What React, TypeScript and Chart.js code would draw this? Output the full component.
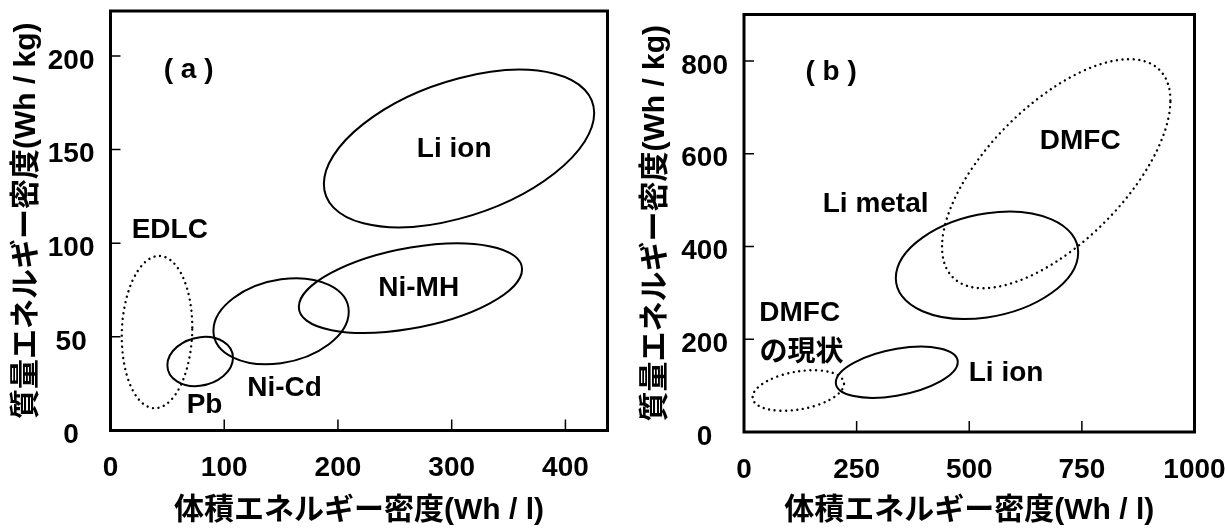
import React, { useEffect, useRef } from 'react';
import { Chart, registerables } from 'chart.js';
Chart.register(...registerables);

const FONT = "'Liberation Sans', Arial, 'Noto Sans CJK JP', sans-serif";
const X_TITLE = '体積エネルギー密度(Wh / l)';
const Y_TITLE = '質量エネルギー密度(Wh / kg)';

// ---------- Panel (a) data ----------
const aRegions = ['Li ion', 'Ni-MH', 'Ni-Cd', 'Pb', 'EDLC'];
const aXMin = [187.6, 165.6, 90.5, 50, 9.9];
const aXMax = [425.3, 361.9, 209.5, 107.7, 71.9];
const aYMin = [108.5, 52.1, 35.4, 23.7, 11.9];
const aYMax = [192.6, 99.9, 81.3, 50, 93.2];
const aTilt = [0.45, 0.42, 0.22, 0.15, 0.06];
const aDotted = ['EDLC'];
const aLabels = ['( a )', 'Li ion', 'EDLC', 'Ni-MH', 'Ni-Cd', 'Pb'];
const aLabelX = [68.7, 302.2, 52.1, 271, 153.1, 82.7];
const aLabelY = [192.3, 150.3, 107.1, 76, 22.4, 13.4];
const aXTicks = [0, 100, 200, 300, 400];
const aYTicks = [0, 50, 100, 150, 200];
const aXRange = [0, 437];
const aYRange = [0, 224];

// ---------- Panel (b) data ----------
const bRegions = ['DMFC', 'Li metal', 'Li ion', 'DMFCの現状'];
const bXMin = [439.6, 337, 203.8, 19.1];
const bXMax = [946.5, 741.8, 474.5, 222];
const bYMin = [310, 243.6, 73.6, 45.8];
const bYMax = [803.7, 475, 184, 133.2];
const bTilt = [0.64, 0.24, 0.4, 0.33];
const bDotted = ['DMFC', 'DMFCの現状'];
const bLabels = ['( b )', 'DMFC', 'Li metal', 'DMFC', 'の現状', 'Li ion'];
const bLabelX = [193.4, 746.2, 292.2, 123.7, 127.7, 581.7];
const bLabelY = [774.4, 625.9, 491.4, 255, 169.6, 125.9];
const bXTicks = [0, 250, 500, 750, 1000];
const bYTicks = [0, 200, 400, 600, 800];
const bXRange = [0, 1000];
const bYRange = [0, 900];

type Panel = {
  regions: string[]; xMin: number[]; xMax: number[]; yMin: number[]; yMax: number[];
  tilt: number[]; dotted: string[]; labels: string[]; labelX: number[]; labelY: number[];
  xTicks: number[]; yTicks: number[]; xRange: number[]; yRange: number[];
};

const panelA: Panel = {
  regions: aRegions, xMin: aXMin, xMax: aXMax, yMin: aYMin, yMax: aYMax, tilt: aTilt,
  dotted: aDotted, labels: aLabels, labelX: aLabelX, labelY: aLabelY,
  xTicks: aXTicks, yTicks: aYTicks, xRange: aXRange, yRange: aYRange,
};
const panelB: Panel = {
  regions: bRegions, xMin: bXMin, xMax: bXMax, yMin: bYMin, yMax: bYMax, tilt: bTilt,
  dotted: bDotted, labels: bLabels, labelX: bLabelX, labelY: bLabelY,
  xTicks: bXTicks, yTicks: bYTicks, xRange: bXRange, yRange: bYRange,
};

type Layout = { top: number; right: number; yWidth: number; xHeight: number; yTitlePad: number };
const layoutA: Layout = { top: 11, right: 22.5, yWidth: 110.5, xHeight: 100.5, yTitlePad: 9 };
const layoutB: Layout = { top: 14.5, right: 30.5, yWidth: 114, xHeight: 99, yTitlePad: 8 };

function makeOverlay(p: Panel) {
  return {
    id: 'overlay',
    afterDraw(chart: any) {
      const { ctx, chartArea } = chart;
      const xs = chart.scales.x;
      const ys = chart.scales.y;
      ctx.save();
      ctx.strokeStyle = '#000';
      ctx.fillStyle = '#000';
      // frame
      ctx.lineWidth = 3;
      ctx.setLineDash([]);
      ctx.strokeRect(chartArea.left, chartArea.top, chartArea.right - chartArea.left, chartArea.bottom - chartArea.top);
      // inward ticks
      ctx.lineWidth = 1.5;
      ctx.beginPath();
      p.xTicks.forEach((v) => {
        if (v === p.xRange[0]) return;
        const px = xs.getPixelForValue(v);
        ctx.moveTo(px, chartArea.bottom);
        ctx.lineTo(px, chartArea.bottom - 11);
      });
      p.yTicks.forEach((v) => {
        if (v === p.yRange[0]) return;
        const py = ys.getPixelForValue(v);
        ctx.moveTo(chartArea.left, py);
        ctx.lineTo(chartArea.left + 10, py);
      });
      ctx.stroke();
      // regions (ellipses from ranges + tilt)
      p.regions.forEach((name, i) => {
        const x0 = xs.getPixelForValue(p.xMin[i]);
        const x1 = xs.getPixelForValue(p.xMax[i]);
        const y0 = ys.getPixelForValue(p.yMin[i]);
        const y1 = ys.getPixelForValue(p.yMax[i]);
        const cx = (x0 + x1) / 2;
        const cy = (y0 + y1) / 2;
        const W = Math.abs(x1 - x0) / 2;
        const H = Math.abs(y1 - y0) / 2;
        const r = p.tilt[i];
        const s = Math.sqrt(1 - r * r);
        ctx.save();
        ctx.beginPath();
        ctx.save();
        ctx.translate(cx, cy);
        ctx.transform(W, -H * r, 0, -H * s, 0, 0);
        ctx.arc(0, 0, 1, 0, Math.PI * 2);
        ctx.restore();
        if (p.dotted.includes(name)) {
          ctx.lineWidth = 2.4;
          ctx.lineCap = 'round';
          ctx.setLineDash([0.01, 5.6]);
        } else {
          ctx.lineWidth = 2;
          ctx.setLineDash([]);
        }
        ctx.strokeStyle = '#000';
        ctx.stroke();
        ctx.restore();
      });
      // text labels
      ctx.setLineDash([]);
      ctx.font = `bold 28px ${FONT}`;
      ctx.textAlign = 'center';
      ctx.textBaseline = 'middle';
      p.labels.forEach((t, i) => {
        ctx.fillText(t, xs.getPixelForValue(p.labelX[i]), ys.getPixelForValue(p.labelY[i]));
      });
      ctx.restore();
    },
  };
}

function makeConfig(p: Panel, L: Layout): any {
  const tickFont = { family: FONT, size: 28, weight: 'bold' };
  const titleFont = { family: FONT, size: 30, weight: 'bold' };
  return {
    type: 'scatter',
    data: { datasets: [{ data: [] }] },
    options: {
      responsive: false,
      animation: false,
      devicePixelRatio: 1,
      layout: { padding: { left: 0, top: L.top, right: L.right, bottom: 0 } },
      plugins: { legend: { display: false }, tooltip: { enabled: false } },
      scales: {
        x: {
          type: 'linear',
          min: p.xRange[0],
          max: p.xRange[1],
          afterBuildTicks: (s: any) => { s.ticks = p.xTicks.map((v) => ({ value: v })); },
          afterFit: (s: any) => {
            s.height = L.xHeight;
            s.paddingLeft = 0; s.paddingRight = 0; s.paddingTop = 0; s.paddingBottom = 0;
          },
          grid: { display: false, drawTicks: false },
          border: { display: false },
          ticks: {
            color: '#000', font: tickFont, padding: 21, maxRotation: 0, autoSkip: false,
            callback: (v: any) => String(v),
          },
          title: { display: true, text: X_TITLE, color: '#000', font: titleFont, padding: { top: 0, bottom: 2 } },
        },
        y: {
          type: 'linear',
          min: p.yRange[0],
          max: p.yRange[1],
          afterBuildTicks: (s: any) => { s.ticks = p.yTicks.map((v) => ({ value: v })); },
          afterFit: (s: any) => {
            s.width = L.yWidth;
            s.paddingLeft = 0; s.paddingRight = 0; s.paddingTop = 0; s.paddingBottom = 0;
          },
          grid: { display: false, drawTicks: false },
          border: { display: false },
          ticks: {
            color: '#000', font: tickFont, padding: 16, crossAlign: 'center', labelOffset: 5, autoSkip: false,
            callback: (v: any) => String(v),
          },
          title: { display: true, text: Y_TITLE, color: '#000', font: titleFont, padding: { top: L.yTitlePad, bottom: 0 } },
        },
      },
    },
    plugins: [makeOverlay(p)],
  };
}

export default function App() {
  const refA = useRef<HTMLCanvasElement>(null);
  const refB = useRef<HTMLCanvasElement>(null);
  useEffect(() => {
    const a = new Chart(refA.current as HTMLCanvasElement, makeConfig(panelA, layoutA));
    const b = new Chart(refB.current as HTMLCanvasElement, makeConfig(panelB, layoutB));
    return () => { a.destroy(); b.destroy(); };
  }, []);
  return (
    <div style={{ position: 'fixed', left: 0, top: 0, width: 1225, height: 531, background: '#fff' }}>
      <canvas ref={refA} width={630} height={531} style={{ position: 'absolute', left: 0, top: 0, width: 630, height: 531 }} />
      <canvas ref={refB} width={595} height={531} style={{ position: 'absolute', left: 630, top: 0, width: 595, height: 531 }} />
    </div>
  );
}
